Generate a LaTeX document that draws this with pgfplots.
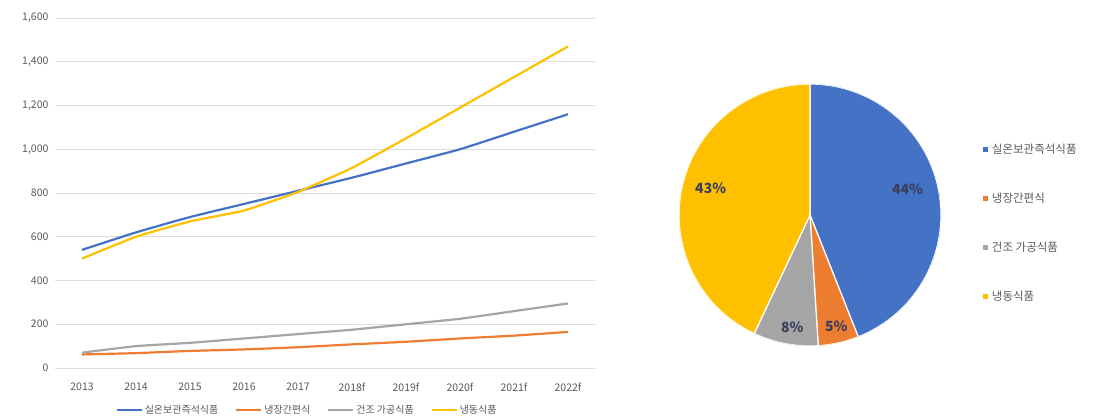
\documentclass[border=0pt]{standalone}
\usepackage{fontspec}
\setmainfont{Noto Sans CJK KR}
\usepackage{pgfplots}
\pgfplotsset{compat=1.18}
\usepgfplotslibrary{polar}
\definecolor{cblue}{HTML}{4472C4}
\definecolor{corange}{HTML}{ED7D31}
\definecolor{cgray}{HTML}{A5A5A5}
\definecolor{cyellow}{HTML}{FFC000}
\definecolor{txt}{HTML}{595959}
\definecolor{lbl}{HTML}{3B3F5C}
\begin{document}
\begin{tikzpicture}
\useasboundingbox (0,0) rectangle (1106pt,416pt);
\begin{axis}[
  at={(55pt,48pt)}, anchor=south west,
  scale only axis, width=540pt, height=350pt,
  xmin=-0.5, xmax=9.5, ymin=0, ymax=1600,
  xtick={0,...,9},
  xticklabels={2013,2014,2015,2016,2017,2018f,2019f,2020f,2021f,2022f},
  ytick={0,200,...,1600},
  /pgf/number format/assume math mode=true,
  yticklabel style={/pgf/number format/1000 sep={,}, xshift=-3pt},
  ticklabel style={font=\fontsize{10.5}{12}\selectfont, text=txt},
  xticklabel style={yshift=-11pt},
  axis line style={draw=none},
  major tick length=0pt,
  ymajorgrids, major grid style={draw=black!13, line width=0.6pt},
  legend columns=4,
  legend style={draw=none, fill=none, at={(0.467,-0.12)}, anchor=center,
    font=\fontsize{10}{11}\selectfont, text=txt, inner sep=0pt,
    /tikz/every even column/.append style={column sep=15pt}},
  legend image code/.code={\draw[#1, line width=2pt] (0pt,0pt) -- (25pt,0pt);},
  every axis plot/.append style={line width=2.2pt, smooth, tension=0.3},
]
\addplot[cblue] coordinates {(0,540) (1,620) (2,690) (3,750) (4,810) (5,870) (6,935) (7,1000) (8,1080) (9,1160)};
\addlegendentry{실온보관즉석식품}
\addplot[corange] coordinates {(0,62) (1,68) (2,78) (3,85) (4,95) (5,108) (6,120) (7,135) (8,148) (9,165)};
\addlegendentry{냉장간편식}
\addplot[cgray] coordinates {(0,70) (1,100) (2,115) (3,135) (4,155) (5,175) (6,200) (7,225) (8,260) (9,295)};
\addlegendentry{건조 가공식품}
\addplot[cyellow] coordinates {(0,500) (1,600) (2,670) (3,720) (4,805) (5,915) (6,1050) (7,1190) (8,1330) (9,1470)};
\addlegendentry{냉동식품}
\end{axis}
\begin{polaraxis}[
  at={(810pt,201pt)}, anchor=center,
  scale only axis, width=262pt, height=262pt,
  ymin=0, ymax=1, hide axis,
  legend style={draw=none, fill=none, at={(1.148,0.787)}, anchor=north west,
    font=\fontsize{11.5}{13}\selectfont, text=txt, row sep=34pt,
    cells={anchor=west}},
  legend image code/.code={\fill[#1, draw=none] (0pt,-2.5pt) rectangle (5pt,2.5pt); \path[draw=none, fill=none] (0pt,0pt) rectangle (7pt,0.1pt);},
  every axis plot/.append style={draw=white, line width=1.2pt, samples=90},
]
\addplot[fill=cblue, domain=-68.4:90] {1} -- (axis cs:0,0) -- cycle;
\addlegendentry{실온보관즉석식품}
\addplot[fill=corange, domain=-86.4:-68.4, samples=20] {1} -- (axis cs:0,0) -- cycle;
\addlegendentry{냉장간편식}
\addplot[fill=cgray, domain=-115.2:-86.4, samples=30] {1} -- (axis cs:0,0) -- cycle;
\addlegendentry{건조 가공식품}
\addplot[fill=cyellow, domain=-270:-115.2] {1} -- (axis cs:0,0) -- cycle;
\addlegendentry{냉동식품}
\node[font=\bfseries\fontsize{14}{15}\selectfont, text=lbl] at (axis cs:15,0.77) {44\%};
\node[font=\bfseries\fontsize{14}{15}\selectfont, text=lbl] at (axis cs:165,0.785) {43\%};
\node[font=\bfseries\fontsize{14}{15}\selectfont, text=lbl] at (axis cs:-99,0.865) {8\%};
\node[font=\bfseries\fontsize{14}{15}\selectfont, text=lbl] at (axis cs:-76.7,0.875) {5\%};
\end{polaraxis}
\end{tikzpicture}
\end{document}
